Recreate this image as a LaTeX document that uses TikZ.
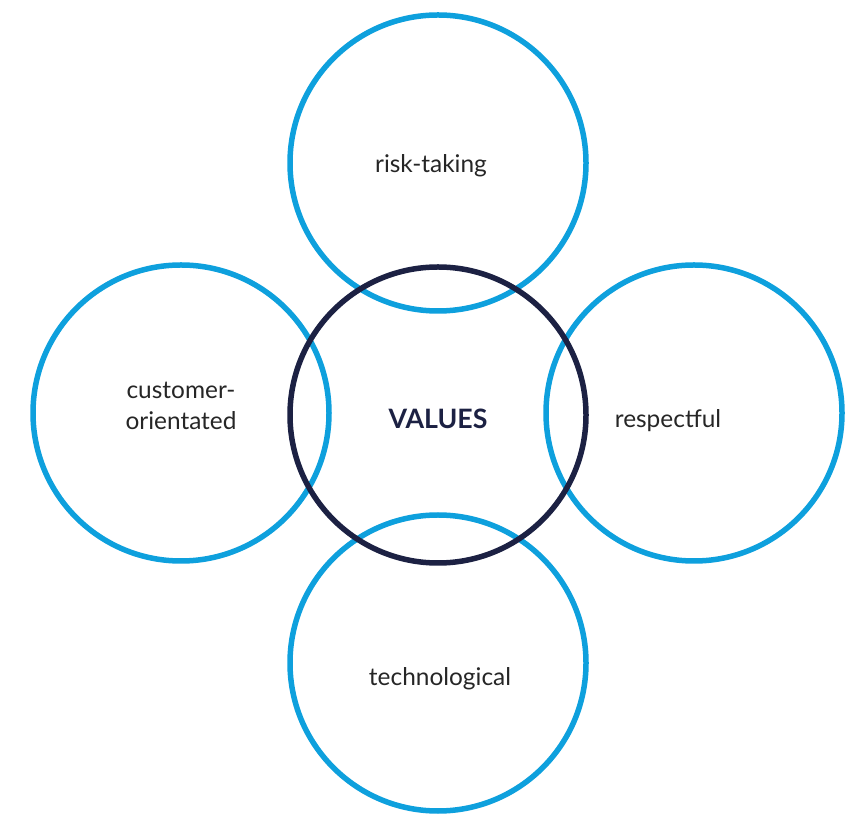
\documentclass[tikz,border=0pt]{standalone}
\usepackage{fontspec}
\setmainfont{Lato}
\definecolor{valblue}{RGB}{14,160,221}
\definecolor{valnavy}{RGB}{28,33,67}
\begin{document}
\begin{tikzpicture}[
    ring/.style={circle, draw=valblue, line width=0.055cm, minimum size=2.96cm, inner sep=0pt},
    core/.style={ring, draw=valnavy},
    word/.style={font=\fontsize{6.95}{8.9}\selectfont, text=black!85, align=center}
  ]
  \useasboundingbox (0,0) rectangle (8.46,8.17);
  \draw
    (4.38,6.54) node[ring] (top){}
    (1.81,4.04) node[ring] (left){}
    (6.94,4.04) node[ring] (right){}
    (4.38,1.54) node[ring] (bottom){}
    (4.38,4.02) node[core] (values){};
  \draw
    (4.31,6.51) node[word] (risk){risk-taking}
    (1.81,4.11) node[word] (customer){customer-\\orientated}
    (4.38,3.98) node[word, font=\fontsize{7.6}{9}\selectfont\bfseries, text=valnavy] (valtext){VALUES}
    (6.68,3.96) node[word] (respect){respectful}
    (4.40,1.38) node[word] (tech){technological};
\end{tikzpicture}
\end{document}
